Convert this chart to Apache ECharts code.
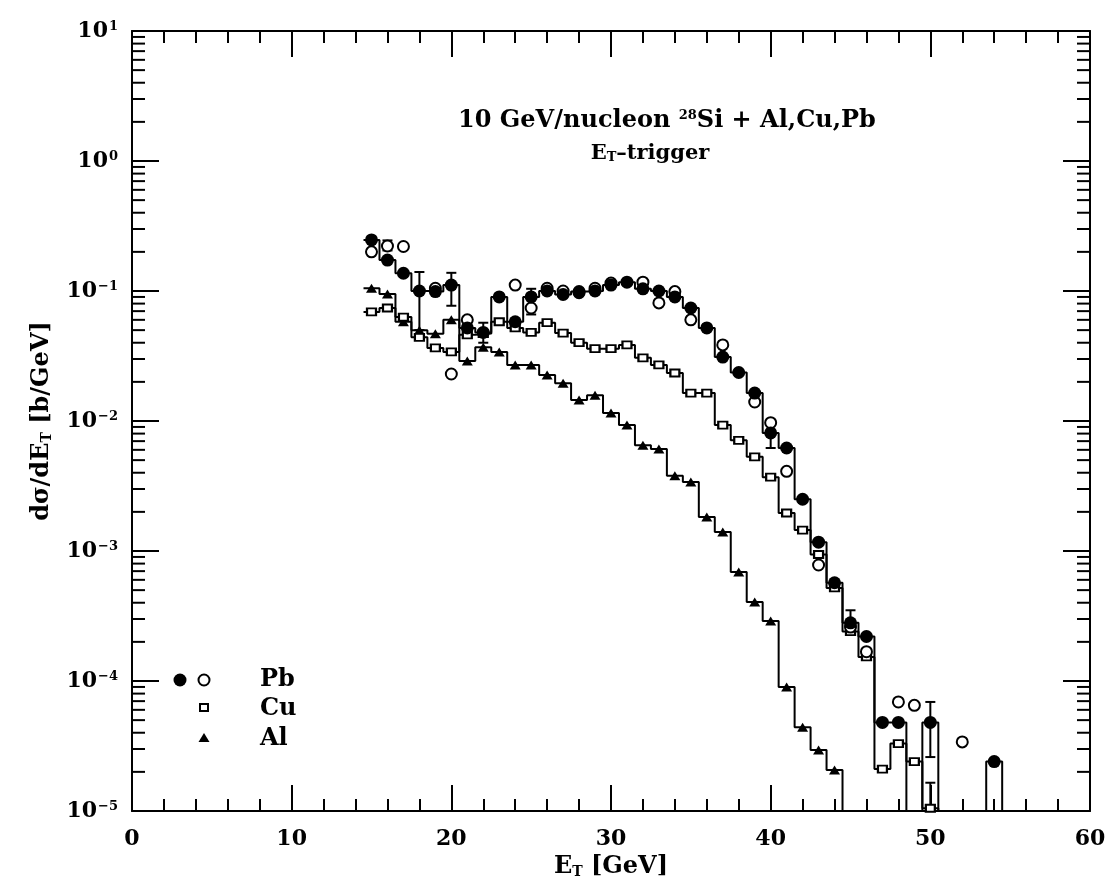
<!DOCTYPE html>
<html><head><meta charset="utf-8">
<script src="https://cdn.jsdelivr.net/npm/echarts@6/dist/echarts.min.js"></script>
<style>html,body{margin:0;padding:0;background:#fff}#c{width:1111px;height:884px}</style>
</head><body><div id="c"></div>
<script>
// ---- data ----
const ET = [15,16,17,18,19,20,21,22,23,24,25,26,27,28,29,30,31,32,33,34,35,36,37,38,39,40,41,42,43,44,45,46,47,48,49,50,51,52,53,54];
const PB_FILLED = [0.247,0.173,0.137,0.100,0.099,0.111,0.052,0.048,0.090,0.058,0.090,0.100,0.094,0.099,0.100,0.111,0.117,0.104,0.100,0.090,0.074,0.052,0.031,0.0236,0.0164,0.0081,0.0062,0.0025,0.00117,0.00057,0.00028,0.00022,4.8e-5,4.8e-5,null,4.8e-5,null,null,null,2.4e-5];
const PB_OPEN = [0.200,0.222,0.220,null,0.105,0.023,0.060,null,null,0.111,0.074,0.105,0.100,0.097,0.105,0.115,null,0.117,0.081,0.099,0.060,null,0.0385,null,0.014,0.0097,0.0041,null,0.00078,null,0.00026,0.000168,null,6.9e-5,6.5e-5,null,null,3.4e-5,null,null];
const CU = [0.069,0.074,0.063,0.044,0.0365,0.034,0.046,0.047,0.058,0.052,0.048,0.057,0.0475,0.040,0.036,0.036,0.0385,0.0306,0.027,0.0234,0.0164,0.0164,0.0093,0.0071,0.0053,0.0037,0.00196,0.00145,0.00094,0.00052,0.00024,0.000153,2.1e-5,3.3e-5,2.4e-5,1.05e-5,null,null,null,null];
const AL = [0.105,0.095,0.058,0.050,0.047,0.060,0.029,0.037,0.034,0.027,0.027,0.0226,0.0195,0.0145,0.0158,0.0115,0.0093,0.0065,0.0061,0.0038,0.0034,0.00183,0.0014,0.00069,0.000405,0.00029,9.0e-5,4.4e-5,2.94e-5,2.07e-5,null,null,null,null,null,null,null,null,null,null];
const ERR_X  = [16,18,20,22,25,40,45,50,50];
const ERR_LO = [0.205,0.050,0.077,0.040,0.066,0.0062,0.00023,2.6e-5,1.0e-5];
const ERR_HI = [0.245,0.140,0.138,0.057,0.104,0.0098,0.00035,6.9e-5,1.65e-5];
const X_MIN = 0, X_MAX = 60, X_STEP = 10;
const Y_MIN = 1e-5, Y_MAX = 10;
const Y_DECADES = [-5,-4,-3,-2,-1,0];
const Y_MINOR_MULT = [2,3,4,5,6,7,8,9];
const LEGEND_LABELS = ['Pb','Cu','Al'];
const TITLE = ['10 GeV/nucleon ', '28', 'Si + Al,Cu,Pb'];
const SUBTITLE = ['E', 'T', '–trigger'];
const X_NAME = ['E', 'T', ' [GeV]'];
const Y_NAME = ['dσ/dE', 'T', ' [b/GeV]'];

// ---- helpers ----
const F = 'DejaVu Serif';
const W = 'bold';
const BLACK = '#000';
function pts(vals){ const o=[]; ET.forEach((x,i)=>{ if(vals[i]!=null) o.push([x, vals[i]]); }); return o; }
function histLine(vals){
  const o=[]; let inRun=false, lastX=null;
  ET.forEach((x,i)=>{
    const v = vals[i];
    if(v==null){
      if(inRun){ o.push([lastX+0.5, Y_MIN]); o.push([x, '-']); inRun=false; }
      return;
    }
    if(!inRun && o.length>0) o.push([x-0.5, Y_MIN]);
    o.push([x-0.5, v]); o.push([x+0.5, v]); inRun=true; lastX=x;
  });
  if(inRun) o.push([lastX+0.5, Y_MIN]);
  return o;
}
const yMinor = [];
Y_DECADES.forEach(d=>Y_MINOR_MULT.forEach(m=>yMinor.push([X_MIN, m*Math.pow(10,d)])));
const errData = ERR_X.map((x,i)=>[x, ERR_LO[i], ERR_HI[i]]);

function supLabel(v){
  const e = Math.round(Math.log10(v));
  return '{b|10}{s|' + (e<0 ? '−'+(-e) : e) + '}';
}

const axisLine = {show:true, onZero:false, lineStyle:{color:BLACK, width:2}};
const histStyle = {type:'line', symbol:'none', lineStyle:{color:BLACK, width:2}, animation:false, silent:true, z:2, connectNulls:false};

const chart = echarts.init(document.getElementById('c'), null, {renderer:'canvas'});
chart.setOption({
  backgroundColor:'#fff',
  animation:false,
  grid:{left:132, right:21, top:31, bottom:73},
  xAxis:[
    {type:'value', min:X_MIN, max:X_MAX, interval:X_STEP, position:'bottom',
     axisLine, splitLine:{show:false},
     axisTick:{show:true, inside:true, length:26, lineStyle:{color:BLACK, width:2}},
     minorTick:{show:true, splitNumber:5, length:12, lineStyle:{color:BLACK, width:2}},
     axisLabel:{fontFamily:F, fontWeight:W, fontSize:22, color:BLACK, margin:17},
     name:'{a|'+X_NAME[0]+'}{s|'+X_NAME[1]+'}{a|'+X_NAME[2]+'}', nameLocation:'middle', nameGap:43,
     nameTextStyle:{rich:{a:{fontFamily:F, fontWeight:W, fontSize:24, color:BLACK}, s:{fontFamily:F, fontWeight:W, fontSize:14, color:BLACK, verticalAlign:'bottom'}}}},
    {type:'value', min:X_MIN, max:X_MAX, interval:X_STEP, position:'top',
     axisLine, splitLine:{show:false},
     axisTick:{show:true, inside:true, length:26, lineStyle:{color:BLACK, width:2}},
     minorTick:{show:true, splitNumber:5, length:12, lineStyle:{color:BLACK, width:2}},
     axisLabel:{show:false}}
  ],
  yAxis:[
    {type:'log', logBase:10, min:Y_MIN, max:Y_MAX, position:'left',
     axisLine, splitLine:{show:false},
     axisTick:{show:true, inside:true, length:27, lineStyle:{color:BLACK, width:2}},
     axisLabel:{formatter:supLabel, margin:14,
       rich:{b:{fontFamily:F, fontWeight:W, fontSize:22, color:BLACK}, s:{fontFamily:F, fontWeight:W, fontSize:13, color:BLACK, verticalAlign:'top', padding:[0,0,0,1]}}},
     name:'{a|'+Y_NAME[0]+'}{s|'+Y_NAME[1]+'}{a|'+Y_NAME[2]+'}', nameLocation:'middle', nameGap:78, nameRotate:90,
     nameTextStyle:{rich:{a:{fontFamily:F, fontWeight:W, fontSize:24, color:BLACK}, s:{fontFamily:F, fontWeight:W, fontSize:14, color:BLACK, verticalAlign:'bottom'}}}},
    {type:'log', logBase:10, min:Y_MIN, max:Y_MAX, position:'right',
     axisLine, splitLine:{show:false},
     axisTick:{show:true, inside:true, length:27, lineStyle:{color:BLACK, width:2}},
     axisLabel:{show:false}}
  ],
  graphic:[
    {type:'text', x:667, y:121, style:{text:'{a|'+TITLE[0]+'}{p|'+TITLE[1]+'}{a|'+TITLE[2]+'}', align:'center', verticalAlign:'middle',
      rich:{a:{fontFamily:F, fontWeight:W, fontSize:24, fill:BLACK}, p:{fontFamily:F, fontWeight:W, fontSize:13, fill:BLACK, verticalAlign:'top'}}}},
    {type:'text', x:650, y:154, style:{text:'{a|'+SUBTITLE[0]+'}{s|'+SUBTITLE[1]+'}{a|'+SUBTITLE[2]+'}', align:'center', verticalAlign:'middle',
      rich:{a:{fontFamily:F, fontWeight:W, fontSize:21, fill:BLACK}, s:{fontFamily:F, fontWeight:W, fontSize:13, fill:BLACK, verticalAlign:'bottom'}}}},
    {type:'circle', shape:{cx:180, cy:680, r:6.5}, style:{fill:BLACK}},
    {type:'circle', shape:{cx:204, cy:680, r:5.5}, style:{fill:'#fff', stroke:BLACK, lineWidth:2}},
    {type:'rect', shape:{x:200, y:704, width:8, height:7}, style:{fill:'#fff', stroke:BLACK, lineWidth:2}},
    {type:'polygon', shape:{points:[[204,733],[209.5,742],[198.5,742]]}, style:{fill:BLACK}},
    {type:'text', x:260, y:680, style:{text:LEGEND_LABELS[0], fontFamily:F, fontWeight:W, fontSize:24, fill:BLACK, verticalAlign:'middle'}},
    {type:'text', x:260, y:709, style:{text:LEGEND_LABELS[1], fontFamily:F, fontWeight:W, fontSize:24, fill:BLACK, verticalAlign:'middle'}},
    {type:'text', x:260, y:739, style:{text:LEGEND_LABELS[2], fontFamily:F, fontWeight:W, fontSize:24, fill:BLACK, verticalAlign:'middle'}}
  ],
  series:[
    Object.assign({name:'Pb hist', data:histLine(PB_FILLED)}, histStyle),
    Object.assign({name:'Cu hist', data:histLine(CU)}, histStyle),
    Object.assign({name:'Al hist', data:histLine(AL)}, histStyle),
    {type:'custom', name:'minor y ticks', data:yMinor, silent:true, z:1,
     renderItem:(params, api)=>{
       const p = api.coord([api.value(0), api.value(1)]);
       const cs = params.coordSys;
       return {type:'group', children:[
         {type:'line', shape:{x1:cs.x, y1:p[1], x2:cs.x+13, y2:p[1]}, style:{stroke:BLACK, lineWidth:2}},
         {type:'line', shape:{x1:cs.x+cs.width-13, y1:p[1], x2:cs.x+cs.width, y2:p[1]}, style:{stroke:BLACK, lineWidth:2}}
       ]};
     }},
    {type:'custom', name:'errors', data:errData, silent:true, z:3, encode:{x:0, y:[1,2]},
     renderItem:(params, api)=>{
       const a = api.coord([api.value(0), api.value(2)]);
       const b = api.coord([api.value(0), api.value(1)]);
       const st = {stroke:BLACK, lineWidth:2};
       return {type:'group', children:[
         {type:'line', shape:{x1:a[0], y1:a[1], x2:b[0], y2:b[1]}, style:st},
         {type:'line', shape:{x1:a[0]-5, y1:a[1], x2:a[0]+5, y2:a[1]}, style:st},
         {type:'line', shape:{x1:b[0]-5, y1:b[1], x2:b[0]+5, y2:b[1]}, style:st}
       ]};
     }},
    {type:'scatter', name:'Al', data:pts(AL), symbol:'triangle', symbolSize:[11,9], itemStyle:{color:BLACK, opacity:1}, z:4},
    {type:'scatter', name:'Cu', data:pts(CU), symbol:'rect', symbolSize:[9,7], itemStyle:{color:'#fff', borderColor:BLACK, borderWidth:2, opacity:1}, z:4},
    {type:'scatter', name:'Pb open', data:pts(PB_OPEN), symbol:'circle', symbolSize:11, itemStyle:{color:'#fff', borderColor:BLACK, borderWidth:2, opacity:1}, z:5},
    {type:'scatter', name:'Pb', data:pts(PB_FILLED), symbol:'circle', symbolSize:13, itemStyle:{color:BLACK, opacity:1}, z:6}
  ]
});
</script></body></html>
